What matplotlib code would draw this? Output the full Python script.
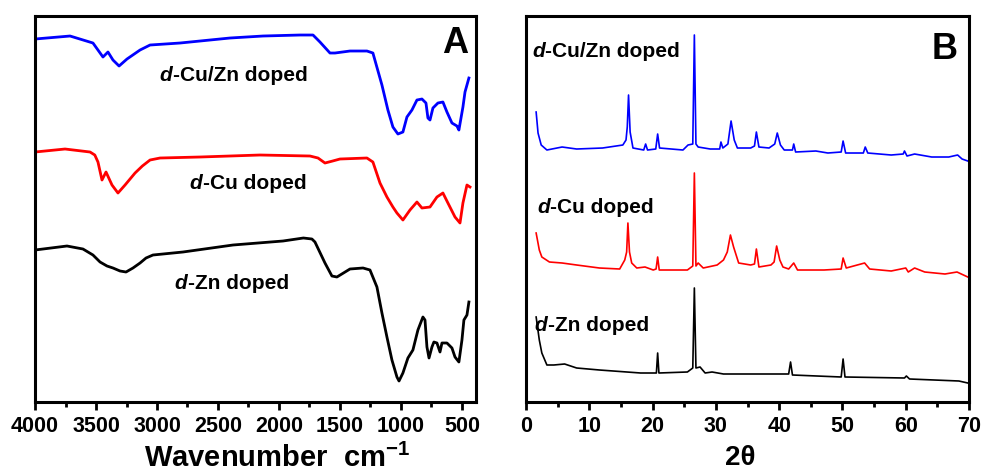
import numpy as np
import matplotlib
matplotlib.use("Agg")
import matplotlib.pyplot as plt
from matplotlib.ticker import MultipleLocator

plt.rcParams['font.family'] = ['Liberation Sans', 'DejaVu Sans']
plt.rcParams['font.weight'] = 'bold'
plt.rcParams['mathtext.fontset'] = 'custom'
plt.rcParams['mathtext.rm'] = 'Liberation Sans:bold'
plt.rcParams['mathtext.bf'] = 'Liberation Sans:bold'

# ---------- FTIR (panel A), transmittance in a.u. ----------
ir_cuzn_wn = [4000, 3713, 3525, 3484, 3443, 3402, 3361, 3311, 3246, 3139, 3057, 2811, 2402,
              2131, 1828, 1721, 1664, 1582, 1541, 1418, 1279, 1230, 1156, 1107, 1066, 1025,
              984, 951, 910, 869, 828, 795, 779, 762, 738, 697, 656, 623, 582, 541, 525,
              492, 475, 443]
ir_cuzn_t = [363, 366, 359, 352, 345, 350, 342, 336, 343, 352, 357, 359, 364,
             366, 367, 367, 360, 349, 349, 351, 351, 349, 317, 292, 275, 268,
             270, 285, 292, 302, 303, 299, 284, 282, 294, 299, 300, 290, 279, 276, 272,
             295, 310, 324]

ir_cu_wn = [4000, 3754, 3549, 3510, 3484, 3451, 3418, 3369, 3320, 3262, 3180, 3120, 3057,
            2975, 2648, 2156, 1746, 1680, 1623, 1560, 1500, 1279, 1230, 1172, 1115, 1066,
            1033, 984, 926, 869, 828, 762, 705, 656, 615, 557, 516, 492, 459, 434]
ir_cu_t = [250, 253, 250, 247, 240, 222, 230, 217, 209, 217, 229, 236, 242,
           244, 245, 247, 246, 244, 239, 241, 243, 244, 240, 219, 205, 195,
           189, 182, 192, 200, 194, 195, 205, 209, 199, 185, 179, 199, 217, 215]

ir_zn_wn = [4000, 3738, 3607, 3525, 3467, 3410, 3361, 3303, 3254, 3197, 3139, 3090, 3033,
            2787, 2377, 1967, 1800, 1730, 1705, 1623, 1566, 1525, 1418, 1311, 1254, 1197,
            1156, 1115, 1074, 1033, 1016, 984, 943, 902, 861, 820, 803, 787, 770, 746,
            730, 705, 680, 664, 623, 582, 557, 525, 500, 484, 459, 443]
ir_zn_t = [152, 156, 153, 147, 140, 136, 134, 131, 130, 134, 139, 144, 147,
           150, 157, 161, 164, 163, 160, 139, 126, 125, 133, 134, 132, 115,
           89, 65, 42, 25, 21, 29, 44, 52, 72, 85, 82, 55, 44, 55,
           60, 59, 50, 59, 59, 54, 45, 40, 62, 82, 87, 100]

# ---------- XRD (panel B), intensity in a.u. ----------
xrd_cuzn_2t = [1.6, 1.9, 2.4, 3.3, 5.7, 8.0, 12.1, 15.3, 15.8, 16.0, 16.2, 16.45, 16.9, 18.6,
               18.9, 19.2, 20.5, 20.8, 21.1, 24.8, 25.6, 26.35, 26.6, 26.85, 27.2, 29.1,
               30.6, 30.8, 31.1, 31.9, 32.4, 32.9, 33.4, 35.5, 36.1, 36.4, 36.8, 38.4,
               39.3, 39.7, 40.2, 40.8, 42.1, 42.3, 42.6, 45.8, 47.7, 49.8, 50.1, 50.5, 53.3,
               53.6, 54.0, 57.7, 59.6, 59.8, 60.2, 61.4, 64.1, 66.8, 68.2, 68.9, 69.8]
xrd_cuzn_i = [290, 269, 257, 252, 255, 253, 254, 257, 262, 275, 307, 270, 254, 252,
              258, 252, 253, 268, 254, 252, 257, 258, 367, 258, 255, 253,
              253, 260, 254, 258, 281, 262, 254, 254, 256, 270, 255, 254,
              258, 269, 257, 252, 252, 258, 250, 251, 249, 250, 261, 249, 249,
              255, 249, 247, 248, 251, 246, 248, 245, 245, 247, 243, 241]

xrd_cu_2t = [1.6, 2.1, 2.5, 3.7, 5.7, 8.0, 11.6, 14.8, 15.6, 15.9, 16.1, 16.35, 16.7, 17.5,
             18.8, 20.1, 20.55, 20.8, 21.05, 25.5, 26.35, 26.6, 26.85, 27.2, 28.0, 30.2,
             31.2, 31.8, 32.3, 32.8, 33.6, 35.5, 36.1, 36.4, 36.8, 38.7, 39.2, 39.6, 40.1,
             40.6, 41.5, 42.3, 42.9, 47.1, 49.8, 50.1, 50.6, 53.5, 54.3, 57.7, 60.0,
             60.4, 61.4, 63.0, 66.2, 68.1, 69.8]
xrd_cu_i = [169, 152, 145, 140, 139, 137, 134, 133, 142, 150, 179, 150, 139, 134,
            135, 132, 133, 145, 132, 132, 136, 229, 136, 139, 134, 137,
            142, 150, 167, 155, 139, 137, 138, 153, 135, 137, 140, 156, 142,
            135, 133, 139, 132, 132, 133, 144, 134, 139, 133, 131, 134,
            130, 134, 130, 128, 130, 125]

xrd_zn_2t = [1.6, 2.1, 2.5, 3.3, 4.4, 6.1, 8.0, 11.6, 18.1, 20.6, 20.8, 21.0, 25.5, 26.35,
             26.6, 26.85, 27.5, 28.3, 29.4, 31.2, 36.6, 41.5, 41.8, 42.1, 49.8, 50.1,
             50.4, 59.8, 60.1, 60.6, 68.4, 69.8]
xrd_zn_i = [85, 62, 49, 37, 37, 38, 34, 32, 29, 29, 49, 29, 30, 34,
            114, 34, 35, 29, 30, 28, 28, 28, 40, 27, 25, 43,
            25, 24, 26, 23, 21, 19]

labels = ['-Cu/Zn doped', '-Cu doped', '-Zn doped']
colors = ['#0000FF', '#FF0000', '#000000']

fig = plt.figure(figsize=(9.81, 4.71), dpi=100)
axA = fig.add_axes([0.0357, 0.1465, 0.4495, 0.8195])
axB = fig.add_axes([0.5362, 0.1465, 0.4516, 0.8195])

for wn, t, c in zip([ir_cuzn_wn, ir_cu_wn, ir_zn_wn], [ir_cuzn_t, ir_cu_t, ir_zn_t], colors):
    axA.plot(wn, t, color=c, lw=2.0, solid_joinstyle='round')
for tt, i, c in zip([xrd_cuzn_2t, xrd_cu_2t, xrd_zn_2t], [xrd_cuzn_i, xrd_cu_i, xrd_zn_i], colors):
    axB.plot(tt, i, color=c, lw=1.2)

axA.set_xlim(4000, 385)
axA.xaxis.set_major_locator(MultipleLocator(500))
axA.xaxis.set_minor_locator(MultipleLocator(250))
axB.set_xlim(0, 70)
axB.xaxis.set_major_locator(MultipleLocator(10))
axB.xaxis.set_minor_locator(MultipleLocator(5))

for ax in (axA, axB):
    ax.set_ylim(0, 386)
    ax.set_yticks([])
    for s in ax.spines.values():
        s.set_linewidth(2.2)
    ax.tick_params(axis='x', which='major', direction='out', length=6, width=2,
                   labelsize=15.5, pad=4)
    ax.tick_params(axis='x', which='minor', direction='out', length=3.5, width=2)
    for lb in ax.get_xticklabels():
        lb.set_fontweight('bold')


def sample_label(ax, x, y, rest):
    t = ax.text(x, y, 'd', transform=ax.transAxes, fontsize=15,
                style='italic', fontweight='bold', va='center', ha='left')
    ax.annotate(rest, xy=(1, 0), xycoords=t, fontsize=15,
                fontweight='bold', va='bottom', ha='left')


sample_label(axA, 0.283, 0.847, labels[0])
sample_label(axA, 0.351, 0.567, labels[1])
sample_label(axA, 0.317, 0.308, labels[2])
sample_label(axB, 0.0135, 0.907, labels[0])
sample_label(axB, 0.025, 0.505, labels[1])
sample_label(axB, 0.020, 0.199, labels[2])

axA.text(0.982, 0.930, 'A', transform=axA.transAxes, fontsize=26,
         fontweight='bold', ha='right', va='center')
axB.text(0.975, 0.912, 'B', transform=axB.transAxes, fontsize=26,
         fontweight='bold', ha='right', va='center')

axA.set_xlabel(r'Wavenumber  cm$^{\mathbf{-1}}$', fontsize=21, fontweight='bold')
axA.xaxis.set_label_coords(0.549, -0.108)
axB.set_xlabel('2θ', fontsize=20, fontweight='bold')
axB.xaxis.set_label_coords(0.483, -0.112)

fig.savefig('out.png', dpi=100)
